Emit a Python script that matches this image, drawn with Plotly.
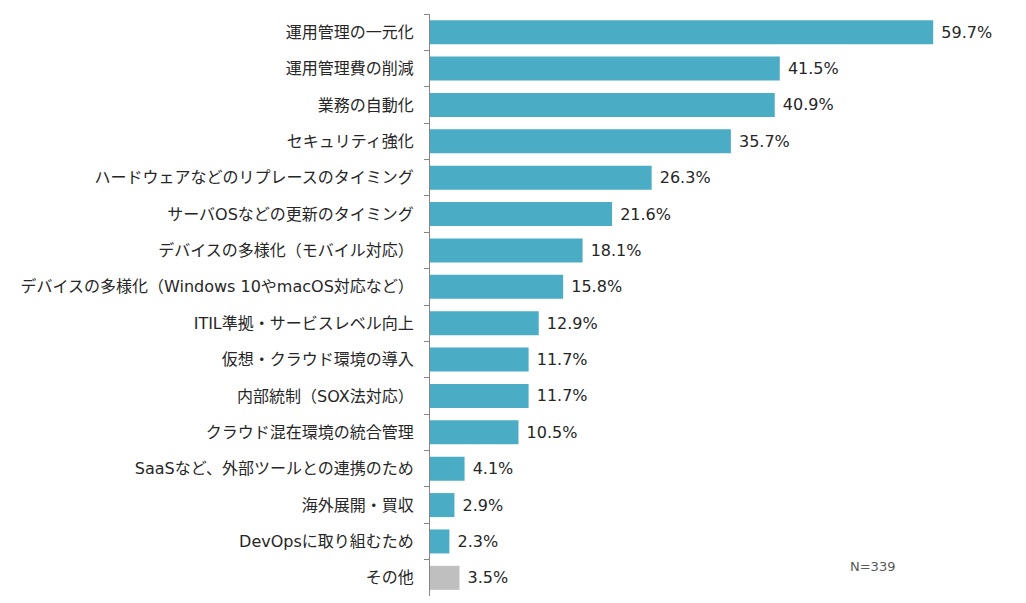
import plotly.graph_objects as go

categories = [
    "運用管理の一元化",
    "運用管理費の削減",
    "業務の自動化",
    "セキュリティ強化",
    "ハードウェアなどのリプレースのタイミング",
    "サーバOSなどの更新のタイミング",
    "デバイスの多様化（モバイル対応）",
    "デバイスの多様化（Windows 10やmacOS対応など）",
    "ITIL準拠・サービスレベル向上",
    "仮想・クラウド環境の導入",
    "内部統制（SOX法対応）",
    "クラウド混在環境の統合管理",
    "SaaSなど、外部ツールとの連携のため",
    "海外展開・買収",
    "DevOpsに取り組むため",
    "その他",
]
values = [59.7, 41.5, 40.9, 35.7, 26.3, 21.6, 18.1, 15.8, 12.9, 11.7, 11.7, 10.5, 4.1, 2.9, 2.3, 3.5]
sample_note = "N=339"

colors = ["#4BACC6"] * (len(categories) - 1) + ["#BFBFBF"]

font_family = "DejaVu Sans, Noto Sans CJK JP, sans-serif"

fig = go.Figure(
    go.Bar(
        x=values,
        y=categories,
        orientation="h",
        marker=dict(color=colors, line=dict(width=0)),
        text=[f" {v:.1f}%" for v in values],
        textposition="outside",
        constraintext="none",
        textfont=dict(size=16, color="#262626", family=font_family),
        cliponaxis=False,
        hoverinfo="skip",
    )
)

# page body adds ~8px margin, so the figure is slightly smaller than the window
fig.update_layout(
    width=1018,
    height=595,
    margin=dict(l=422, r=6, t=6, b=7),
    paper_bgcolor="white",
    plot_bgcolor="white",
    bargap=0.34,
    showlegend=False,
    font=dict(family=font_family, size=15, color="#262626"),
)

fig.update_xaxes(
    range=[0, 70],
    showgrid=False,
    showticklabels=False,
    zeroline=False,
    showline=False,
    ticks="",
)

fig.update_yaxes(
    type="category",
    autorange="reversed",
    showline=True,
    linecolor="#868686",
    linewidth=1,
    ticks="outside",
    tickson="boundaries",
    ticklen=5,
    tickcolor="#868686",
    ticklabelstandoff=12,
    tickfont=dict(size=16, color="#262626", family=font_family),
    showgrid=False,
)

fig.add_annotation(
    text=sample_note,
    xref="paper", yref="paper",
    x=0.75, y=0.05,
    xanchor="center", yanchor="middle",
    showarrow=False,
    font=dict(size=13, color="#595959", family=font_family),
)

fig.write_html("out.html")
